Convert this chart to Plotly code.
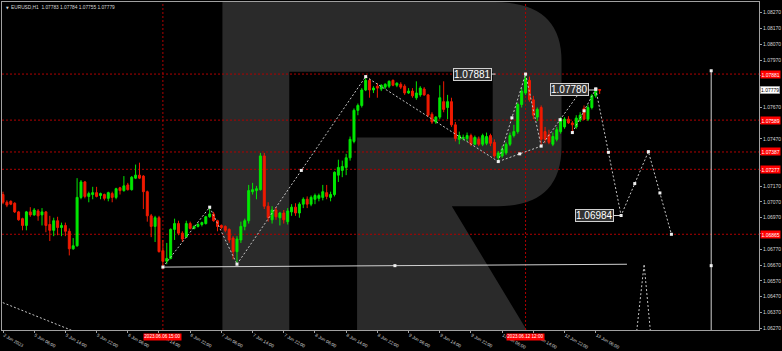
import plotly.graph_objects as go

# ---------------- data (EURUSD H1) ----------------
bar_index = list(range(154))
open_ = [1.07117, 1.07068, 1.07074, 1.07062, 1.07007, 1.06964, 1.06921, 1.07007, 1.06988, 1.07013,
         1.06988, 1.07007, 1.06927, 1.06890, 1.06951, 1.06908, 1.06921, 1.06884, 1.06773, 1.06792,
         1.07099, 1.07197, 1.07105, 1.07117, 1.07129, 1.07111, 1.07117, 1.07093, 1.07123, 1.07099,
         1.07160, 1.07142, 1.07178, 1.07148, 1.07221, 1.07240, 1.07234, 1.07135, 1.06982, 1.06915,
         1.06970, 1.06761, 1.06694, 1.06712, 1.06896, 1.06933, 1.06872, 1.06847, 1.06933, 1.06902,
         1.06915, 1.06927, 1.06933, 1.06976, 1.06994, 1.06951, 1.06921, 1.06915, 1.06896, 1.06841,
         1.06755, 1.06829, 1.06915, 1.06951, 1.07135, 1.07142, 1.07148, 1.07362, 1.07043, 1.06957,
         1.07019, 1.06970, 1.07000, 1.06945, 1.07007, 1.07037, 1.07000, 1.07056, 1.07087, 1.07056,
         1.07087, 1.07093, 1.07099, 1.07129, 1.07099, 1.07117, 1.07240, 1.07270, 1.07289, 1.07350,
         1.07454, 1.07651, 1.07682, 1.07780, 1.07841, 1.07780, 1.07804, 1.07786, 1.07798, 1.07804,
         1.07841, 1.07810, 1.07816, 1.07804, 1.07761, 1.07773, 1.07731, 1.07749, 1.07786, 1.07749,
         1.07626, 1.07577, 1.07608, 1.07706, 1.07669, 1.07706, 1.07559, 1.07467, 1.07473, 1.07473,
         1.07491, 1.07436, 1.07467, 1.07436, 1.07442, 1.07491, 1.07448, 1.07350, 1.07362, 1.07381,
         1.07436, 1.07491, 1.07516, 1.07688, 1.07761, 1.07841, 1.07718, 1.07608, 1.07669, 1.07516,
         1.07497, 1.07436, 1.07467, 1.07516, 1.07546, 1.07595, 1.07571, 1.07546, 1.07589, 1.07663,
         1.07595, 1.07669, 1.07743, 1.07783]
high = [1.07135, 1.07080, 1.07080, 1.07068, 1.07013, 1.06970, 1.07013, 1.07037, 1.07031, 1.07025,
        1.07031, 1.07013, 1.06982, 1.06970, 1.06976, 1.06939, 1.06939, 1.06902, 1.06841, 1.07221,
        1.07209, 1.07203, 1.07135, 1.07166, 1.07166, 1.07129, 1.07123, 1.07135, 1.07135, 1.07160,
        1.07166, 1.07234, 1.07191, 1.07234, 1.07307, 1.07319, 1.07240, 1.07142, 1.06994, 1.06982,
        1.06982, 1.06829, 1.06810, 1.06902, 1.06964, 1.06951, 1.06884, 1.06951, 1.06945, 1.06921,
        1.06939, 1.06945, 1.06982, 1.07037, 1.07007, 1.06957, 1.06927, 1.06921, 1.06902, 1.06853,
        1.06853, 1.06945, 1.06964, 1.07178, 1.07191, 1.07172, 1.07381, 1.07381, 1.07068, 1.07043,
        1.07037, 1.07007, 1.07019, 1.07031, 1.07056, 1.07062, 1.07068, 1.07099, 1.07105, 1.07111,
        1.07123, 1.07123, 1.07178, 1.07178, 1.07135, 1.07264, 1.07338, 1.07332, 1.07375, 1.07485,
        1.07663, 1.07694, 1.07792, 1.07865, 1.07853, 1.07804, 1.07823, 1.07816, 1.07823, 1.07841,
        1.07847, 1.07829, 1.07829, 1.07816, 1.07792, 1.07792, 1.07835, 1.07804, 1.07798, 1.07755,
        1.07639, 1.07614, 1.07810, 1.07835, 1.07749, 1.07731, 1.07577, 1.07516, 1.07497, 1.07510,
        1.07503, 1.07491, 1.07485, 1.07503, 1.07510, 1.07503, 1.07467, 1.07393, 1.07424, 1.07448,
        1.07510, 1.07559, 1.07700, 1.07792, 1.07881, 1.07865, 1.07743, 1.07669, 1.07682, 1.07546,
        1.07528, 1.07510, 1.07546, 1.07608, 1.07608, 1.07614, 1.07583, 1.07620, 1.07639, 1.07682,
        1.07688, 1.07755, 1.07786, 1.07784]
low = [1.07056, 1.07037, 1.07050, 1.07000, 1.06951, 1.06890, 1.06890, 1.06976, 1.06982, 1.06951,
       1.06921, 1.06878, 1.06822, 1.06853, 1.06859, 1.06853, 1.06853, 1.06731, 1.06767, 1.06786,
       1.07087, 1.07093, 1.07068, 1.07087, 1.07099, 1.07087, 1.07080, 1.07074, 1.07068, 1.07087,
       1.07117, 1.07135, 1.07142, 1.07142, 1.07215, 1.07215, 1.07025, 1.06945, 1.06847, 1.06816,
       1.06749, 1.06657, 1.06675, 1.06706, 1.06829, 1.06859, 1.06816, 1.06841, 1.06896, 1.06896,
       1.06908, 1.06915, 1.06927, 1.06970, 1.06945, 1.06884, 1.06896, 1.06878, 1.06810, 1.06706,
       1.06675, 1.06810, 1.06890, 1.06933, 1.07117, 1.07087, 1.07142, 1.07025, 1.06945, 1.06933,
       1.06957, 1.06921, 1.06933, 1.06927, 1.06982, 1.06982, 1.06970, 1.07031, 1.07031, 1.07043,
       1.07056, 1.07074, 1.07080, 1.07087, 1.07074, 1.07105, 1.07197, 1.07227, 1.07240, 1.07332,
       1.07442, 1.07620, 1.07669, 1.07773, 1.07731, 1.07761, 1.07731, 1.07773, 1.07786, 1.07792,
       1.07804, 1.07798, 1.07786, 1.07749, 1.07755, 1.07731, 1.07718, 1.07737, 1.07743, 1.07608,
       1.07565, 1.07565, 1.07595, 1.07639, 1.07595, 1.07546, 1.07454, 1.07436, 1.07460, 1.07454,
       1.07424, 1.07430, 1.07424, 1.07424, 1.07430, 1.07424, 1.07350, 1.07326, 1.07350, 1.07369,
       1.07424, 1.07479, 1.07503, 1.07669, 1.07749, 1.07706, 1.07595, 1.07583, 1.07424, 1.07442,
       1.07436, 1.07424, 1.07454, 1.07503, 1.07534, 1.07565, 1.07510, 1.07534, 1.07577, 1.07589,
       1.07583, 1.07657, 1.07731, 1.07755]
close = [1.07068, 1.07050, 1.07056, 1.07007, 1.06957, 1.06921, 1.07007, 1.06988, 1.07019, 1.06982,
         1.07007, 1.06921, 1.06890, 1.06951, 1.06908, 1.06921, 1.06884, 1.06773, 1.06792, 1.07099,
         1.07197, 1.07105, 1.07123, 1.07129, 1.07105, 1.07123, 1.07093, 1.07129, 1.07099, 1.07154,
         1.07142, 1.07172, 1.07148, 1.07227, 1.07240, 1.07221, 1.07135, 1.06982, 1.06915, 1.06970,
         1.06755, 1.06694, 1.06712, 1.06896, 1.06933, 1.06872, 1.06835, 1.06933, 1.06902, 1.06915,
         1.06927, 1.06939, 1.06976, 1.06994, 1.06951, 1.06915, 1.06908, 1.06890, 1.06829, 1.06755,
         1.06835, 1.06915, 1.06951, 1.07142, 1.07148, 1.07154, 1.07362, 1.07043, 1.06970, 1.07019,
         1.06976, 1.07000, 1.06957, 1.07013, 1.07037, 1.07000, 1.07056, 1.07087, 1.07056, 1.07099,
         1.07111, 1.07111, 1.07135, 1.07105, 1.07117, 1.07258, 1.07289, 1.07295, 1.07350, 1.07467,
         1.07651, 1.07682, 1.07780, 1.07841, 1.07780, 1.07792, 1.07792, 1.07810, 1.07816, 1.07835,
         1.07810, 1.07823, 1.07798, 1.07761, 1.07773, 1.07743, 1.07761, 1.07792, 1.07749, 1.07620,
         1.07577, 1.07608, 1.07731, 1.07657, 1.07706, 1.07559, 1.07473, 1.07491, 1.07479, 1.07491,
         1.07436, 1.07479, 1.07436, 1.07491, 1.07485, 1.07442, 1.07362, 1.07381, 1.07405, 1.07436,
         1.07491, 1.07516, 1.07688, 1.07773, 1.07853, 1.07718, 1.07620, 1.07657, 1.07467, 1.07467,
         1.07448, 1.07485, 1.07528, 1.07595, 1.07595, 1.07571, 1.07559, 1.07602, 1.07620, 1.07595,
         1.07669, 1.07743, 1.07782, 1.07779]

time_tick_index = [0, 8, 16, 24, 32, 40, 48, 56, 64, 72, 80, 88, 96, 104, 112, 120, 128, 136, 144, 152]
time_tick_labels = ["2 Jun 2023", "5 Jun 06:00", "5 Jun 14:00", "5 Jun 22:00", "6 Jun 06:00",
                    "6 Jun 14:00", "6 Jun 22:00", "7 Jun 06:00", "7 Jun 14:00", "7 Jun 22:00",
                    "8 Jun 06:00", "8 Jun 14:00", "8 Jun 22:00", "9 Jun 06:00", "9 Jun 14:00",
                    "9 Jun 22:00", "12 Jun 06:00", "12 Jun 14:00", "12 Jun 22:00", "13 Jun 06:00"]
price_ticks = [1.06270, 1.06370, 1.06470, 1.06570, 1.06670, 1.06770, 1.06870, 1.06970, 1.07070,
               1.07170, 1.07270, 1.07370, 1.07470, 1.07570, 1.07670, 1.07770, 1.07870, 1.07970,
               1.08070, 1.08170, 1.08270]

level_prices = [1.07881, 1.07589, 1.07387, 1.07277, 1.06865]
event_index = [41, 134]
event_labels = ["2023.06.06 15:00", "2023.06.12 12:00"]
current_price = 1.07779
title_text = "EURUSD,H1  1.07783 1.07784 1.07755 1.07779"

# wave drawing anchors (bar index, price)
wave_index = [41, 53, 60, 93, 127, 134, 138, 146, 152]
wave_price = [1.06657, 1.07037, 1.06675, 1.07865, 1.07326, 1.07881, 1.07424, 1.07510, 1.07786]
wave_segments = [(0, 1), (1, 2), (2, 3), (3, 4), (4, 5), (5, 6), (4, 6), (7, 8)]
wave_mid_segments = [(2, 3), (4, 5), (4, 6), (7, 8)]
side_index = [138, 147.7]
side_price = [1.07424, 1.07759]
proj_index = [152, 158.5, 165.5, 171.4]
proj_price = [1.07786, 1.06984, 1.07389, 1.06865]
base_index = [41, 160]
base_price = [1.06657, 1.06675]
vline_index = 181.6
vline_prices = [1.07902, 1.06666]
caret_index = [162.4, 164.4, 166.1]
caret_price = [1.06227, 1.06675, 1.06227]
edge_index = [-1, 19]
edge_price = [1.06441, 1.06242]
price_labels = [("1.07881", 126.3, 1.07881, -23), ("1.07780", 152, 1.07780, -26), ("1.06984", 158.5, 1.06984, -27)]

# ---------------- styling ----------------
W, H = 782, 351
PL, PR, PT, PB = 1, 760, 1, 340
X_RANGE = [-0.256, 193.86]
Y_RANGE = [1.06258, 1.08338]
GREEN = "#00e800"
RED = "#f01a00"
LEVEL_RED = "#b00000"
DRAW = "#c4c4c4"
FONT = "Liberation Sans"

fig = go.Figure()

# watermark "R" (pixel outline -> paper coordinates)
def pp(x, y):
    return f"{(x - PL) / (PR - PL):.5f},{(PB - y) / (PB - PT):.5f}"

r_path = ("M " + pp(222, 1) + " L " + pp(495, 1) + " Q " + pp(562, 1) + " " + pp(562, 62) +
          " L " + pp(562, 150) + " Q " + pp(562, 212) + " " + pp(498, 212) +
          " L " + pp(452, 212) + " L " + pp(527, 340) + " L " + pp(357, 340) +
          " L " + pp(357, 141) + " L " + pp(493, 141) + " L " + pp(493, 73) +
          " L " + pp(289, 73) + " L " + pp(289, 340) + " L " + pp(222, 340) + " Z")
fig.add_shape(type="path", path=r_path, xref="paper", yref="paper",
              fillcolor="#2a2a2a", line=dict(width=0), layer="below")

# horizontal levels and vertical event lines
for p in level_prices:
    fig.add_shape(type="line", xref="paper", x0=0, x1=1, yref="y", y0=p, y1=p,
                  line=dict(color=LEVEL_RED, width=1, dash="2px,2px"), layer="below")
for i in event_index:
    fig.add_shape(type="line", xref="x", x0=i, x1=i, yref="paper", y0=0, y1=1,
                  line=dict(color=LEVEL_RED, width=1, dash="2px,2px"), layer="below")

# candles
fig.add_trace(go.Candlestick(
    x=bar_index, open=open_, high=high, low=low, close=close,
    increasing=dict(line=dict(color=GREEN, width=1), fillcolor=GREEN),
    decreasing=dict(line=dict(color=RED, width=1), fillcolor=RED),
    whiskerwidth=0, hoverinfo="skip", showlegend=False))

# dotted wave lines
def seg_xy(pairs, xs, ys):
    X, Y = [], []
    for a, b in pairs:
        X += [xs[a], xs[b], None]
        Y += [ys[a], ys[b], None]
    return X, Y

wx, wy = seg_xy(wave_segments, wave_index, wave_price)
wx += side_index + [None] + proj_index + [None] + caret_index + [None] + edge_index
wy += side_price + [None] + proj_price + [None] + caret_price + [None] + edge_price
fig.add_trace(go.Scatter(x=wx, y=wy, mode="lines", line=dict(color=DRAW, width=1, dash="2px,2px"),
                         hoverinfo="skip", showlegend=False, connectgaps=False))

# solid lines
fig.add_trace(go.Scatter(x=base_index + [None, vline_index, vline_index],
                         y=base_price + [None, vline_prices[0], Y_RANGE[0] - 0.001],
                         mode="lines", line=dict(color="#d0d0d0", width=1),
                         hoverinfo="skip", showlegend=False))

# anchor markers
mx = list(wave_index) + proj_index
my = list(wave_price) + proj_price
for a, b in wave_mid_segments:
    mx.append((wave_index[a] + wave_index[b]) / 2)
    my.append((wave_price[a] + wave_price[b]) / 2)
mx.append((side_index[0] + side_index[1]) / 2); my.append((side_price[0] + side_price[1]) / 2)
for k in range(len(proj_index) - 1):
    mx.append((proj_index[k] + proj_index[k + 1]) / 2)
    my.append((proj_price[k] + proj_price[k + 1]) / 2)
mx.append((base_index[0] + base_index[1]) / 2); my.append((base_price[0] + base_price[1]) / 2)
mx += [vline_index, vline_index]; my += vline_prices
fig.add_trace(go.Scatter(x=mx, y=my, mode="markers",
                         marker=dict(symbol="square", size=3, color="#f0f0f0", line=dict(width=0)),
                         hoverinfo="skip", showlegend=False))

# price label boxes on the chart
for txt, xi, pr, ax in price_labels:
    fig.add_annotation(x=xi, y=pr, xref="x", yref="y", text=txt, showarrow=True,
                       ax=ax, ay=0, arrowhead=0, arrowwidth=1, arrowcolor="#d8d8d8",
                       font=dict(family=FONT, size=10, color="#ffffff"),
                       bgcolor="#333333", bordercolor="#d0d0d0", borderwidth=1, borderpad=0)

# price axis labels for levels
for p in level_prices:
    fig.add_annotation(x=1, xref="paper", xanchor="left", xshift=1, y=p, yref="y",
                       text=f"{p:.5f}", showarrow=False,
                       font=dict(family=FONT, size=5, color="#ffffff"),
                       bgcolor="#ff0000", borderpad=0.5)
fig.add_annotation(x=1, xref="paper", xanchor="left", xshift=1, y=current_price, yref="y",
                   text=f"{current_price:.5f}", showarrow=False,
                   font=dict(family=FONT, size=5, color="#000000"),
                   bgcolor="#ffffff", bordercolor="#808080", borderwidth=0.5, borderpad=0.5)

# axis tick texts hidden where a level / price label covers them (as the terminal does)
covering = level_prices + [current_price]
price_tick_text = ["" if any(abs(v - c) < 0.0004 for c in covering) else f"{v:.5f}" for v in price_ticks]

# time axis labels for events
for i, t in zip(event_index, event_labels):
    fig.add_annotation(x=i, xref="x", y=0, yref="paper", yanchor="top", yshift=-2.5,
                       text=t, showarrow=False,
                       font=dict(family=FONT, size=4.6, color="#ffffff"),
                       bgcolor="#ff0000", borderpad=0.3)

# chart title
fig.add_annotation(x=0, xref="paper", xanchor="left", xshift=2, y=1, yref="paper",
                   yanchor="top", yshift=-1.5, text="▼", showarrow=False,
                   font=dict(family="DejaVu Sans", size=3.5, color="#d8d8d8"))
fig.add_annotation(x=0, xref="paper", xanchor="left", xshift=7, y=1, yref="paper",
                   yanchor="top", yshift=-1, text=title_text, showarrow=False,
                   font=dict(family=FONT, size=4.8, color="#d8d8d8"))

fig.update_layout(
    width=W, height=H,
    margin=dict(l=PL, r=W - PR, t=PT, b=H - PB, pad=0),
    paper_bgcolor="#000000", plot_bgcolor="#000000",
    showlegend=False, boxgap=0.28,
    xaxis=dict(range=X_RANGE, showgrid=False, zeroline=False, rangeslider=dict(visible=False),
               tickmode="array", tickvals=time_tick_index, ticktext=time_tick_labels,
               ticks="outside", ticklen=2, tickcolor="#a0a0a0", ticklabelposition="outside right",
               tickfont=dict(family=FONT, size=4.5, color="#d8d8d8"),
               showline=True, linecolor="#a0a0a0", linewidth=1, mirror=True, fixedrange=True),
    yaxis=dict(range=Y_RANGE, side="right", showgrid=False, zeroline=False,
               tickmode="array", tickvals=price_ticks, ticktext=price_tick_text,
               ticks="outside", ticklen=2, tickcolor="#a0a0a0",
               tickfont=dict(family=FONT, size=5, color="#d8d8d8"),
               showline=True, linecolor="#a0a0a0", linewidth=1, mirror=True, fixedrange=True),
)

fig.write_html("out.html")
